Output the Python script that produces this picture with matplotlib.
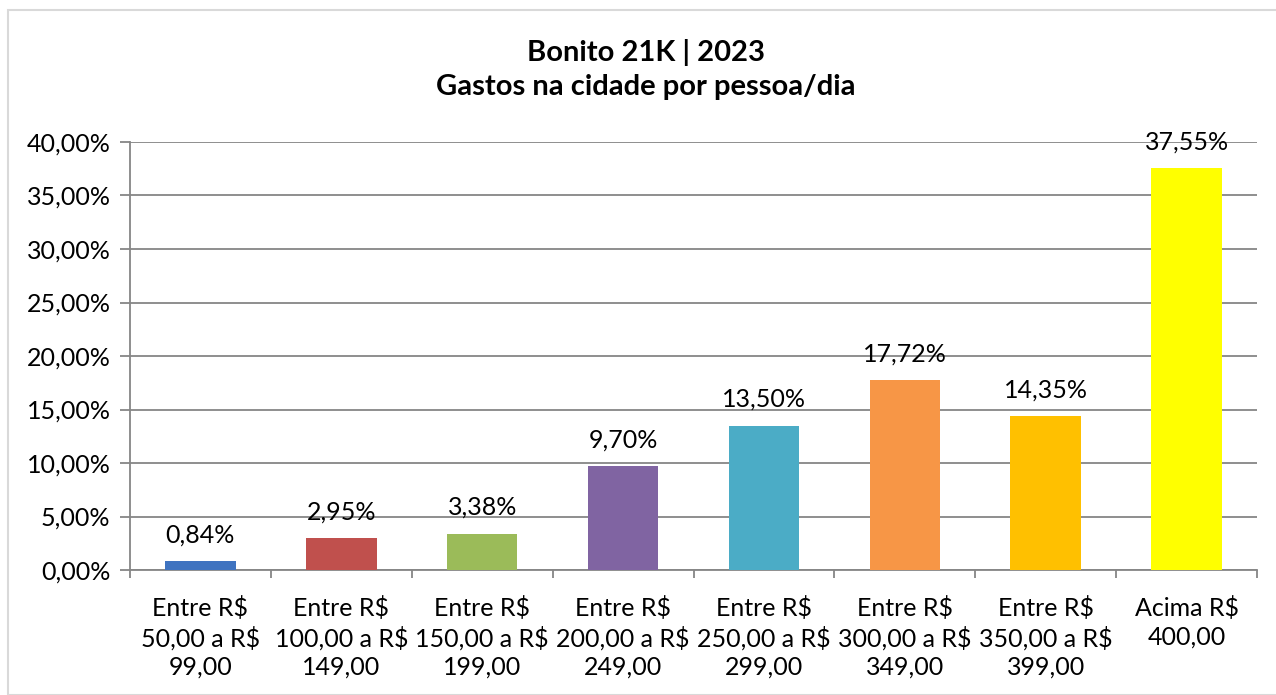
import matplotlib
matplotlib.use("Agg")
import matplotlib.pyplot as plt
from matplotlib.ticker import FuncFormatter, FixedLocator
from matplotlib.patches import Rectangle

categories = [
    "Entre R$\n50,00 a R$\n99,00",
    "Entre R$\n100,00 a R$\n149,00",
    "Entre R$\n150,00 a R$\n199,00",
    "Entre R$\n200,00 a R$\n249,00",
    "Entre R$\n250,00 a R$\n299,00",
    "Entre R$\n300,00 a R$\n349,00",
    "Entre R$\n350,00 a R$\n399,00",
    "Acima R$\n400,00",
]
values = [0.84, 2.95, 3.38, 9.70, 13.50, 17.72, 14.35, 37.55]
colors = ["#3F73C0", "#C0504D", "#9BBB59", "#8064A2", "#4BACC6", "#F79646", "#FFC000", "#FFFF00"]
title_lines = ["Bonito 21K | 2023", "Gastos na cidade por pessoa/dia"]

plt.rcParams['font.family'] = ['Lato', 'DejaVu Sans']

W, H = 1276, 695
fig = plt.figure(figsize=(W / 100, H / 100), dpi=100)
fig.patches.append(Rectangle((8 / W, 0), (W - 8) / W + 0.01, (H - 10) / H, transform=fig.transFigure,
                             fill=False, edgecolor="#D9D9D9", linewidth=1.5))

ax = fig.add_axes([130 / W, 1 - 570 / H, (1257 - 130) / W, (570 - 142) / H])
x = list(range(len(values)))
ax.bar(x, values, width=0.5, color=colors, zorder=3)
for xi, v in zip(x, values):
    ax.annotate(f"{v:.2f}%".replace(".", ","), (xi, v), xytext=(0, 19), textcoords="offset points",
                ha="center", va="center", fontsize=18, color="#000000", zorder=4)

ax.set_xlim(-0.5, len(values) - 0.5)
ax.set_ylim(0, 40)
ax.set_yticks(range(0, 41, 5))
ax.yaxis.set_major_formatter(FuncFormatter(lambda v, p: f"{v:.2f}%".replace(".", ",")))
ax.yaxis.grid(True, color="#868686", linewidth=1.3, zorder=0)
ax.set_xticks(x)
ax.set_xticklabels(categories, fontsize=18, linespacing=1.27)
ax.xaxis.set_minor_locator(FixedLocator([i - 0.5 for i in range(len(values) + 1)]))
ax.tick_params(axis="x", which="major", length=0, pad=19)
ax.tick_params(axis="x", which="minor", length=6, width=1.3, color="#868686")
ax.tick_params(axis="y", length=7, width=1.3, color="#868686", labelsize=18, pad=7)
for s in ["top", "right"]:
    ax.spines[s].set_visible(False)
for s in ["left", "bottom"]:
    ax.spines[s].set_color("#868686")
    ax.spines[s].set_linewidth(1.3)

fig.text(646 / W, 1 - 52 / H, title_lines[0], ha="center", va="center", fontsize=21, fontweight="bold")
fig.text(646 / W, 1 - 87 / H, title_lines[1], ha="center", va="center", fontsize=21, fontweight="bold")

fig.savefig("out.png", dpi=100)
